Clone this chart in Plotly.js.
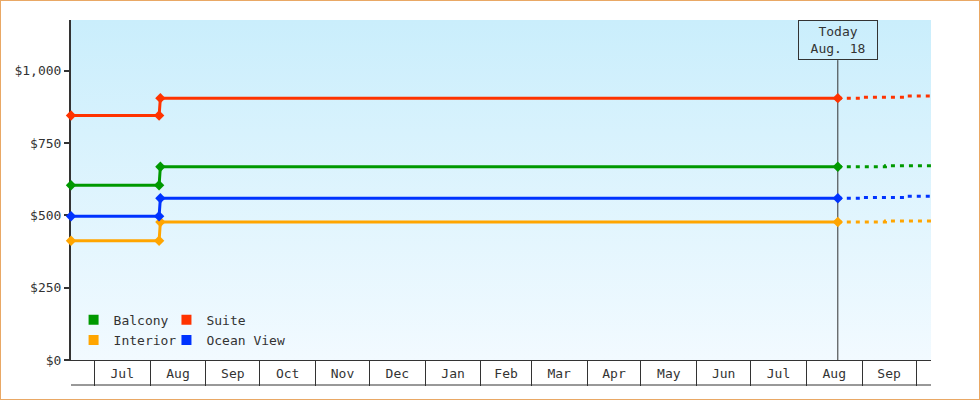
<!DOCTYPE html>
<html>
<head>
<meta charset="utf-8">
<script src="https://cdn.plot.ly/plotly-3.0.1.min.js"></script>
<style>
  body { margin: 0; background: #fff; }
  #wrap { position: relative; width: 980px; height: 400px; }
  #chart { width: 980px; height: 400px; }
  #frame { position: absolute; left: 0; top: 0; width: 980px; height: 400px; box-sizing: border-box; border: 1px solid #e9a865; pointer-events: none; }
</style>
</head>
<body>
<div id="wrap"><div id="chart"></div><div id="frame"></div></div>
<script>
// price history (step change in early August) and the forecast after today
const seriesNames = ['Balcony', 'Suite', 'Interior', 'Ocean View'];
const priceDates = ['2024-06-18', '2024-08-06', '2024-08-06 17:00', '2025-08-18 12:00'];
const balconyPrice = [604, 604, 668, 668];
const suitePrice = [845, 845, 905, 905];
const interiorPrice = [412, 412, 477, 477];
const oceanViewPrice = [497, 497, 559, 559];

const forecastDates = ['2025-08-18 12:00', '2025-09-01', '2025-09-14', '2025-09-26', '2025-10-09 08:00'];
const balconyForecast = [668, 668, 671, 671, 671];
const suiteForecast = [905, 908, 908, 912, 912];
const interiorForecast = [477, 477, 480, 480, 480];
const oceanViewForecast = [559, 562, 562, 566, 566];

const todayDate = '2025-08-18 12:00';
const todayLabel = 'Today<br>Aug. 18';
const xRange = ['2024-06-18', '2025-10-09 08:00'];
const yTicks = [0, 250, 500, 750, 1000];

const colors = { 'Balcony': '#009900', 'Suite': '#ff3300', 'Interior': '#ffa500', 'Ocean View': '#0033ff' };
const history = { 'Balcony': balconyPrice, 'Suite': suitePrice, 'Interior': interiorPrice, 'Ocean View': oceanViewPrice };
const forecast = { 'Balcony': balconyForecast, 'Suite': suiteForecast, 'Interior': interiorForecast, 'Ocean View': oceanViewForecast };

const font = 'DejaVu Sans Mono, monospace';
const traces = [];

seriesNames.forEach(name => {
  traces.push({
    x: forecastDates, y: forecast[name], type: 'scatter', mode: 'lines',
    line: { color: colors[name], width: 3, dash: '4px,5px', shape: 'hv' },
    showlegend: false, hoverinfo: 'skip'
  });
});
seriesNames.forEach(name => {
  traces.push({
    x: priceDates, y: history[name], type: 'scatter', mode: 'lines+markers', name: name,
    line: { color: colors[name], width: 3 },
    marker: { color: colors[name], symbol: 'diamond', size: 8 },
    cliponaxis: false, showlegend: false
  });
});

// legend: one small legend per entry, laid out as a 2x2 grid
const legendIds = ['legend', 'legend2', 'legend3', 'legend4'];
const legendX = [0.003, 0.111, 0.003, 0.111];
const legendY = [0.118, 0.118, 0.059, 0.059];
seriesNames.forEach((name, i) => {
  traces.push({
    x: [null], y: [null], type: 'scatter', mode: 'markers', name: name,
    marker: { color: colors[name], symbol: 'square', size: 10 },
    legend: legendIds[i]
  });
});

const layout = {
  width: 980, height: 400,
  margin: { l: 71, r: 49, t: 20, b: 40 },
  paper_bgcolor: '#ffffff', plot_bgcolor: 'rgba(0,0,0,0)',
  font: { family: font, size: 13, color: '#333' },
  showlegend: true,
  xaxis: {
    type: 'date', range: xRange, showgrid: false, zeroline: false,
    showline: true, linecolor: '#333', linewidth: 1,
    dtick: 'M1', tick0: '2024-07-01', tickformat: '%b', ticklabelmode: 'period',
    ticks: 'outside', ticklen: 25, tickwidth: 1, tickcolor: '#333', ticklabelstandoff: -24,
    tickfont: { family: font, size: 13, color: '#333' },
    fixedrange: true
  },
  yaxis: {
    range: [0, 1175], tickvals: yTicks, tickformat: '$,d',
    showgrid: false, zeroline: false, showline: true, linecolor: '#333', linewidth: 2,
    ticks: 'outside', ticklen: 5, tickwidth: 2, tickcolor: '#333',
    tickfont: { family: font, size: 13, color: '#333' }, layer: 'below traces', fixedrange: true
  },
  images: [{
    source: 'data:image/svg+xml;utf8,' + encodeURIComponent(
      '<svg xmlns="http://www.w3.org/2000/svg" width="10" height="100" preserveAspectRatio="none">' +
      '<defs><linearGradient id="g" x1="0" y1="0" x2="0" y2="1">' +
      '<stop offset="0" stop-color="#caeefc"/><stop offset="1" stop-color="#f2faff"/>' +
      '</linearGradient></defs><rect width="10" height="100" fill="url(#g)"/></svg>'),
    xref: 'paper', yref: 'paper', x: 0, y: 1, sizex: 1, sizey: 1,
    xanchor: 'left', yanchor: 'top', sizing: 'stretch', layer: 'below'
  }],
  shapes: [
    { type: 'line', xref: 'x', yref: 'paper', x0: todayDate, x1: todayDate, y0: 0, y1: 0.882,
      line: { color: '#333', width: 1 }, layer: 'below' },
    { type: 'line', xref: 'paper', yref: 'paper', x0: 0, x1: 1, y0: -25 / 340, y1: -25 / 340,
      line: { color: '#333', width: 1 } }
  ],
  annotations: [{
    x: todayDate, xref: 'x', y: 1, yref: 'paper', yanchor: 'top', xanchor: 'center',
    text: todayLabel, showarrow: false, width: 78, height: 38, borderpad: 0,
    bordercolor: '#333', borderwidth: 1, font: { family: font, size: 13, color: '#333' }
  }]
};

legendIds.forEach((id, i) => {
  layout[id] = {
    orientation: 'h', xanchor: 'left', yanchor: 'middle', x: legendX[i], y: legendY[i],
    bgcolor: 'rgba(0,0,0,0)', font: { family: font, size: 13, color: '#333' }
  };
});

Plotly.newPlot('chart', traces, layout, { displayModeBar: false, staticPlot: true });
</script>
</body>
</html>
